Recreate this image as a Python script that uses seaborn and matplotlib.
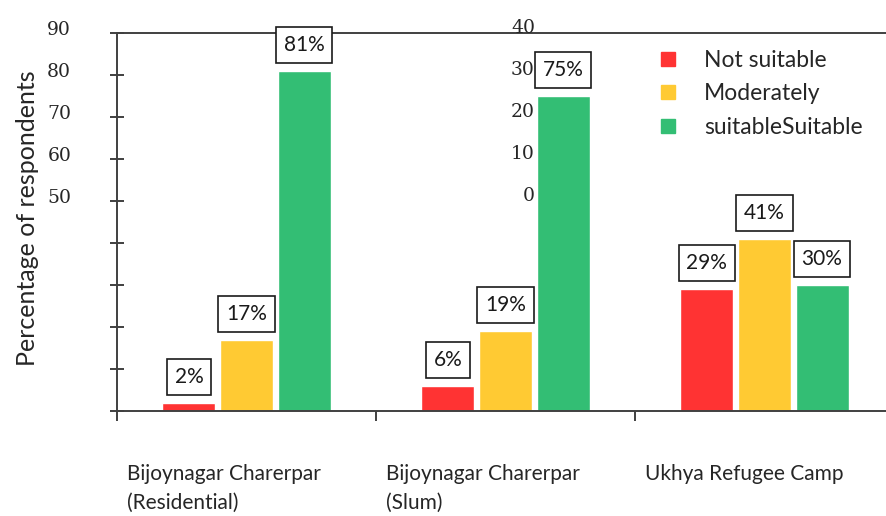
import pandas as pd
import matplotlib.pyplot as plt
import matplotlib.transforms as mtransforms
from matplotlib.lines import Line2D
import seaborn as sns

# Data
sites = ["Bijoynagar Charerpar\n(Residential)", "Bijoynagar Charerpar\n(Slum)", "Ukhya Refugee Camp"]
ratings = ["Not suitable", "Moderately", "suitableSuitable"]
not_suitable = [2, 6, 29]
moderately = [17, 19, 41]
suitable = [81, 75, 30]
colors = ["#FF3333", "#FFCA33", "#33BE74"]

left_labels = ["50", "60", "70", "80", "90"]   # y labels shown at the axis
stray_labels = ["0", "10", "20", "30", "40"]   # duplicated labels floating mid-chart

rows = []
for r, vals in zip(ratings, [not_suitable, moderately, suitable]):
    for s, v in zip(sites, vals):
        rows.append({"site": s, "rating": r, "value": v})
df = pd.DataFrame(rows)

sns.set_style("white")
plt.rcParams["font.family"] = ["Lato", "DejaVu Sans"]

fig = plt.figure(figsize=(8.86, 5.16), dpi=100)
ax = fig.add_axes([117/886, 1 - 411/516, 775/886, 378/516])

sns.barplot(data=df, x="site", y="value", hue="rating", hue_order=ratings,
            palette=colors, width=0.667, gap=0.08, saturation=1, legend=False, ax=ax)

ax.set_xlim(-0.5, -0.5 + 775/259)
ax.set_ylim(0, 90)

# value labels in boxes
for cont, vals in zip(ax.containers, [not_suitable, moderately, suitable]):
    for bar, v in zip(cont, vals):
        ax.annotate(f"{v}%", (bar.get_x() + bar.get_width()/2, bar.get_height()),
                    xytext=(0, 18.7), textcoords="offset points",
                    ha="center", va="center", fontsize=15, color="#1a1a1a",
                    bbox=dict(boxstyle="square,pad=0.38", fc="white", ec="#1a1a1a", lw=1.2))

# spines and ticks
for side in ["left", "bottom", "top"]:
    ax.spines[side].set_color("#404040")
    ax.spines[side].set_linewidth(1.4)
ax.spines["right"].set_visible(False)

serif = ["DejaVu Serif"]
ax.set_yticks(range(0, 100, 10))
ax.set_yticklabels([""] * 5 + left_labels, family=serif, fontsize=13.5)
ax.tick_params(axis="y", left=True, direction="inout", length=10, width=1.4, color="#404040", pad=28)
for lab in ax.get_yticklabels():
    lab.set_transform(lab.get_transform() + mtransforms.ScaledTranslation(0, 5/100, fig.dpi_scale_trans))

# stray labels at the same heights
for txt, y in zip(stray_labels, [50, 60, 70, 80, 90]):
    t = ax.text((535 - 117)/775, y, txt, transform=ax.get_yaxis_transform(),
                ha="right", va="center", family=serif, fontsize=13.5)
    t.set_transform(t.get_transform() + mtransforms.ScaledTranslation(0, 5/100, fig.dpi_scale_trans))

ax.set_xticks([-0.5, 0.5, 1.5])
ax.set_xticklabels(sites, ha="left", va="top", fontsize=15, linespacing=1.55)
ax.tick_params(axis="x", bottom=True, direction="out", length=7, width=1.4, color="#404040", pad=31)
for lab in ax.get_xticklabels():
    lab.set_transform(lab.get_transform() + mtransforms.ScaledTranslation(10/100, 0, fig.dpi_scale_trans))

ax.set_xlabel("")
ax.set_ylabel("")
fig.text(28/886, 1 - 218/516, "Percentage of respondents", rotation=90,
         ha="center", va="center", fontsize=18)

handles = [Line2D([], [], marker="s", linestyle="", markersize=10, color=c) for c in colors]
fig.legend(handles, ratings, loc="upper left", bbox_to_anchor=(624/886, 1 - 29/516),
           frameon=False, fontsize=16.5, handletextpad=0.6, labelspacing=0.55)

fig.savefig("out.png", dpi=100)
